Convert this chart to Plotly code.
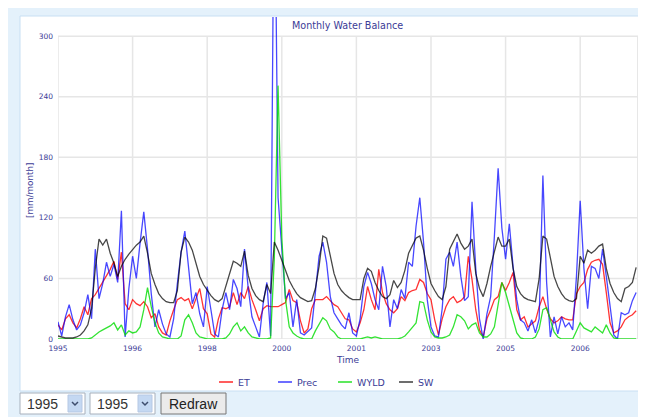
import plotly.graph_objects as go

# ---------------- data (monthly, Jan 1995 - Dec 2007) ----------------
months = list(range(156))
tick_months = [0, 20, 40, 60, 80, 100, 120, 140]
tick_labels = ["1995", "1996", "1998", "2000", "2001", "2003", "2005", "2006"]
y_ticks = [0, 60, 120, 180, 240, 300]
series_names = ["ET", "Prec", "WYLD", "SW"]

et = [
    14, 9, 20, 24, 16, 11, 20, 32, 24, 40, 44, 50,
    56, 62, 69, 77, 59, 86, 35, 29, 39, 35, 33, 37,
    32, 21, 25, 12, 6, 4, 18, 29, 39, 41, 38, 40,
    30, 40, 50, 30, 25, 5, 2, 20, 31, 30, 32, 46,
    34, 46, 40, 52, 39, 29, 18, 30, 33, 32, 32, 32,
    34, 36, 49, 38, 36, 18, 6, 10, 30, 39, 39, 39,
    42, 38, 34, 32, 26, 20, 19, 10, 7, 16, 29, 52,
    39, 29, 69, 46, 35, 29, 26, 30, 42, 38, 46, 48,
    49, 59, 56, 45, 39, 19, 4, 20, 32, 39, 42, 36,
    38, 42, 82, 59, 29, 9, 2, 20, 29, 39, 42, 56,
    48, 56, 66, 29, 19, 22, 12, 15, 18, 32, 42, 30,
    20, 16, 18, 22, 20, 19, 19, 45, 52, 56, 69, 76,
    78, 79, 74, 46, 16, 6, 8, 12, 19, 22, 24, 28,
]

prec = [
    17, 3, 22, 34, 19, 9, 14, 26, 44, 20, 89, 40,
    55, 76, 62, 74, 56, 127, 2, 50, 82, 60, 95, 126,
    89, 45, 12, 29, 15, 5, 2, 20, 55, 86, 107, 72,
    35, 46, 25, 12, 52, 29, 5, 2, 29, 46, 29, 59,
    50, 32, 89, 50, 22, 12, 2, 35, 56, 3, 500, 140,
    90, 40, 46, 12, 39, 6, 4, 8, 11, 46, 82, 96,
    76, 42, 26, 20, 14, 10, 26, 6, 3, 20, 52, 66,
    55, 39, 29, 72, 52, 12, 39, 30, 49, 40, 76, 72,
    112, 140, 96, 39, 12, 3, 2, 30, 79, 86, 72, 96,
    62, 38, 42, 136, 70, 20, 0, 25, 42, 102, 169, 110,
    79, 114, 72, 39, 19, 16, 8, 19, 6, 20, 162, 56,
    2, 22, 5, 22, 12, 16, 9, 62, 137, 70, 30, 72,
    70, 60, 89, 62, 32, 4, 0, 26, 24, 26, 38, 46,
]

wyld = [
    0, 0, 0, 0, 0, 0, 0, 0, 0, 1, 4, 7,
    9, 11, 13, 16, 9, 14, 4, 8, 6, 7, 12, 29,
    51, 32, 16, 6, 2, 1, 0, 0, 0, 3, 19, 24,
    16, 6, 2, 1, 0, 0, 0, 0, 0, 1, 5, 12,
    16, 8, 12, 6, 2, 1, 0, 0, 0, 1, 80, 251,
    100, 39, 12, 6, 3, 1, 0, 0, 0, 8, 14, 21,
    18, 10, 7, 2, 0, 0, 0, 0, 0, 0, 1, 2,
    1, 2, 1, 0, 0, 0, 0, 0, 1, 3, 7, 11,
    16, 37, 36, 19, 7, 2, 1, 1, 2, 4, 12, 24,
    22, 18, 10, 14, 16, 6, 2, 2, 5, 12, 35, 56,
    46, 32, 19, 6, 1, 0, 0, 0, 2, 10, 29, 31,
    19, 7, 2, 0, 0, 0, 0, 8, 16, 11, 9, 7,
    12, 9, 6, 14, 6, 1, 0, 0, 0, 0, 0, 0,
]

sw = [
    3, 2, 1, 1, 1, 2, 4, 8, 14, 30, 70, 99,
    93, 99, 85, 75, 62, 72, 79, 84, 89, 93, 96, 102,
    85, 65, 54, 45, 40, 37, 36, 36, 48, 86, 101, 96,
    88, 76, 62, 54, 48, 43, 39, 37, 40, 52, 66, 77,
    75, 72, 87, 63, 50, 43, 39, 37, 54, 45, 96, 88,
    78, 68, 58, 51, 45, 41, 39, 37, 38, 50, 72, 102,
    100, 82, 65, 54, 48, 44, 41, 39, 39, 39, 60, 70,
    67, 56, 48, 42, 40, 44, 58, 51, 56, 68, 85, 93,
    100, 102, 88, 70, 55, 48, 42, 39, 52, 89, 97, 104,
    95, 89, 92, 99, 65, 50, 42, 55, 72, 88, 101, 92,
    92, 99, 70, 52, 45, 41, 39, 38, 37, 60, 102, 99,
    79, 62, 52, 45, 40, 38, 37, 40, 82, 75, 88, 85,
    88, 92, 94, 70, 55, 46, 40, 37, 50, 52, 56, 71,
]

series_values = [et, prec, wyld, sw]
series_colors = ["rgba(255,0,0,0.8)", "rgba(0,0,255,0.72)", "rgba(0,220,0,0.8)", "rgba(0,0,0,0.72)"]

# ---------------- geometry helpers (page pixel -> paper) ----------------
# The page body has an 8px margin, so the figure's origin sits at page (8, 8).
OFF = 8
PAGE_W, PAGE_H = 646, 417
W, H = PAGE_W - OFF, PAGE_H - OFF
PL, PR, PT, PB = 58, 638, 17, 339   # plot area in page pixels
X_MAX = 155.5
Y_MAX = 319


def fx(p):
    return (p - PL) / (PR - PL)


def fy(p):
    return (PB - p) / (PB - PT)


NAVY = "#3b3b96"
GRID = "#e6e6e6"

fig = go.Figure()
for name, vals, col in zip(series_names, series_values, series_colors):
    fig.add_trace(go.Scatter(x=months, y=vals, mode="lines", name=name,
                             line=dict(color=col, width=1.3), showlegend=False,
                             hoverinfo="skip"))

shapes = []
# page background boxes
shapes.append(dict(type="rect", xref="paper", yref="paper", x0=fx(7), x1=fx(PAGE_W + 2), y0=fy(PAGE_H + 2), y1=fy(7),
                   fillcolor="#e4f1fb", line=dict(width=0), layer="below"))
shapes.append(dict(type="rect", xref="paper", yref="paper", x0=fx(20), x1=fx(PAGE_W + 2), y0=fy(391), y1=fy(16),
                   fillcolor="white", line=dict(color="#c8dff3", width=1), layer="below"))
# grid
for t in tick_months + [X_MAX - 0.05]:
    shapes.append(dict(type="line", xref="x", yref="y", x0=t, x1=t, y0=0, y1=300,
                       line=dict(color=GRID, width=1.5), layer="below"))
for t in y_ticks:
    shapes.append(dict(type="line", xref="x", yref="y", x0=0, x1=X_MAX, y0=t, y1=t,
                       line=dict(color=GRID, width=1.5), layer="below"))

annotations = []
annotations.append(dict(xref="paper", yref="paper", x=fx(347), y=fy(25), text="Monthly Water Balance",
                        showarrow=False, xanchor="center", yanchor="middle",
                        font=dict(family="DejaVu Sans", size=9.6, color=NAVY)))
annotations.append(dict(xref="paper", yref="paper", x=fx(30), y=fy(190), text="[mm/month]",
                        showarrow=False, textangle=-90, xanchor="center", yanchor="middle",
                        font=dict(family="DejaVu Sans", size=8.8, color=NAVY)))
annotations.append(dict(xref="paper", yref="paper", x=fx(347), y=fy(360), text="Time",
                        showarrow=False, xanchor="center", yanchor="middle",
                        font=dict(family="DejaVu Sans", size=9, color=NAVY)))

# legend (manual, to match the original's short swatches)
legend_x = [219, 278, 338, 399]
legend_y = 382
for name, col, lx in zip(series_names, series_colors, legend_x):
    shapes.append(dict(type="line", xref="paper", yref="paper", x0=fx(lx), x1=fx(lx + 14),
                       y0=fy(legend_y), y1=fy(legend_y), line=dict(color=col, width=1.6)))
    annotations.append(dict(xref="paper", yref="paper", x=fx(lx + 17), y=fy(legend_y), text=name,
                            showarrow=False, xanchor="left", yanchor="middle",
                            font=dict(family="DejaVu Sans", size=9.5, color=NAVY)))

# form controls under the chart
for x0, x1 in [(20, 85), (90, 155)]:
    shapes.append(dict(type="rect", xref="paper", yref="paper", x0=fx(x0), x1=fx(x1), y0=fy(414), y1=fy(393),
                       fillcolor="white", line=dict(color="#a7b0bc", width=1)))
    shapes.append(dict(type="rect", xref="paper", yref="paper", x0=fx(x1 - 17), x1=fx(x1 - 3), y0=fy(412), y1=fy(395),
                       fillcolor="#c4d8f2", line=dict(color="#b5c8e4", width=1)))
    cx = x1 - 10
    shapes.append(dict(type="path", xref="paper", yref="paper",
                       path="M %f,%f L %f,%f L %f,%f" % (fx(cx - 3), fy(402), fx(cx), fy(405), fx(cx + 3), fy(402)),
                       line=dict(color="#3d4d6d", width=1.5)))
    annotations.append(dict(xref="paper", yref="paper", x=fx(x0 + 5), y=fy(404), text="1995",
                            showarrow=False, xanchor="left", yanchor="middle",
                            font=dict(family="Liberation Sans", size=14, color="#333333")))
shapes.append(dict(type="rect", xref="paper", yref="paper", x0=fx(161), x1=fx(226), y0=fy(414), y1=fy(393),
                   fillcolor="#ebebeb", line=dict(color="#777777", width=1)))
annotations.append(dict(xref="paper", yref="paper", x=fx(193.5), y=fy(404), text="Redraw",
                        showarrow=False, xanchor="center", yanchor="middle",
                        font=dict(family="Liberation Sans", size=14, color="#222222")))

fig.update_layout(
    width=W, height=H,
    margin=dict(l=PL - OFF, r=W - (PR - OFF), t=PT - OFF, b=H - (PB - OFF), autoexpand=False),
    paper_bgcolor="white", plot_bgcolor="rgba(0,0,0,0)",
    shapes=shapes, annotations=annotations, showlegend=False,
    xaxis=dict(range=[0, X_MAX], tickvals=tick_months, ticktext=tick_labels,
               showgrid=False, zeroline=False, showline=False, ticks="", ticklabelstandoff=3,
               tickfont=dict(family="DejaVu Sans", size=7.5, color=NAVY), fixedrange=True),
    yaxis=dict(range=[0, Y_MAX], tickvals=y_ticks, showgrid=False, zeroline=False,
               showline=False, ticks="", ticklabelstandoff=4,
               tickfont=dict(family="DejaVu Sans", size=7.5, color=NAVY), fixedrange=True),
)

fig.write_html("out.html")
